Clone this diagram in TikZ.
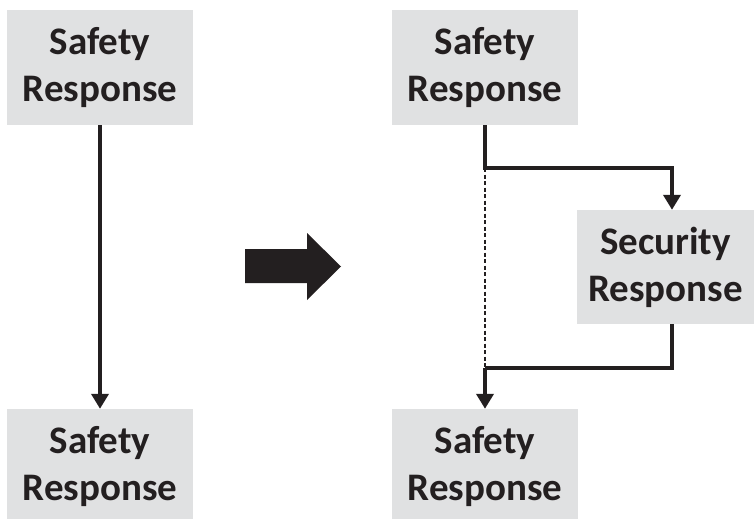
\documentclass[tikz,border=0pt]{standalone}
\usepackage{fontspec}
\setmainfont{Carlito}
\usetikzlibrary{arrows.meta}

\definecolor{boxgray}{RGB}{224,225,226}
\definecolor{ink}{RGB}{35,31,32}

\begin{document}
\begin{tikzpicture}[x=1pt,y=-1pt,
    resp/.style={fill=boxgray,inner sep=0pt,align=center,
      font=\fontsize{39}{47}\selectfont\bfseries,text=ink},
    flow/.style={draw=ink,line width=4.5pt,
      -{Triangle[width=17pt,length=15pt]}},
    plain/.style={draw=ink,line width=4.5pt}]
        \clip (0,0) rectangle (755,519);
        % left column
        \node[resp,minimum width=186pt,minimum height=115pt] (lsafe1) at (100,67.5) {Safety\\Response};
        \node[resp,minimum width=186pt,minimum height=115pt] (lsafe2) at (100,466.5) {Safety\\Response};
        \draw[flow] (lsafe1) -- (lsafe2);
        % big arrow
        \fill[ink] (245,249) -- (307,249) -- (307,233) -- (341,266.5)
          -- (307,300) -- (307,283) -- (245,283) -- cycle;
        % right column
        \node[resp,minimum width=186pt,minimum height=115pt] (rsafe1) at (485,67.5) {Safety\\Response};
        \node[resp,minimum width=177pt,minimum height=114pt] (sec) at (665.5,267) {Security\\Response};
        \node[resp,minimum width=186pt,minimum height=115pt] (rsafe2) at (485,466.5) {Safety\\Response};
        \coordinate (split) at (485,168);
        \coordinate (join) at (485,368);
        \coordinate (secx) at (672,0);
        \draw[flow] (rsafe1.south) -- (split) -| (secx |- sec.north);
        \draw[plain] (secx |- sec.south) |- (join);
        \draw[flow] (join) -- (rsafe2.north);
        \draw[ink,line width=1.2pt,dash pattern=on 4pt off 2.5pt] (split) -- (join);
\end{tikzpicture}
\end{document}
